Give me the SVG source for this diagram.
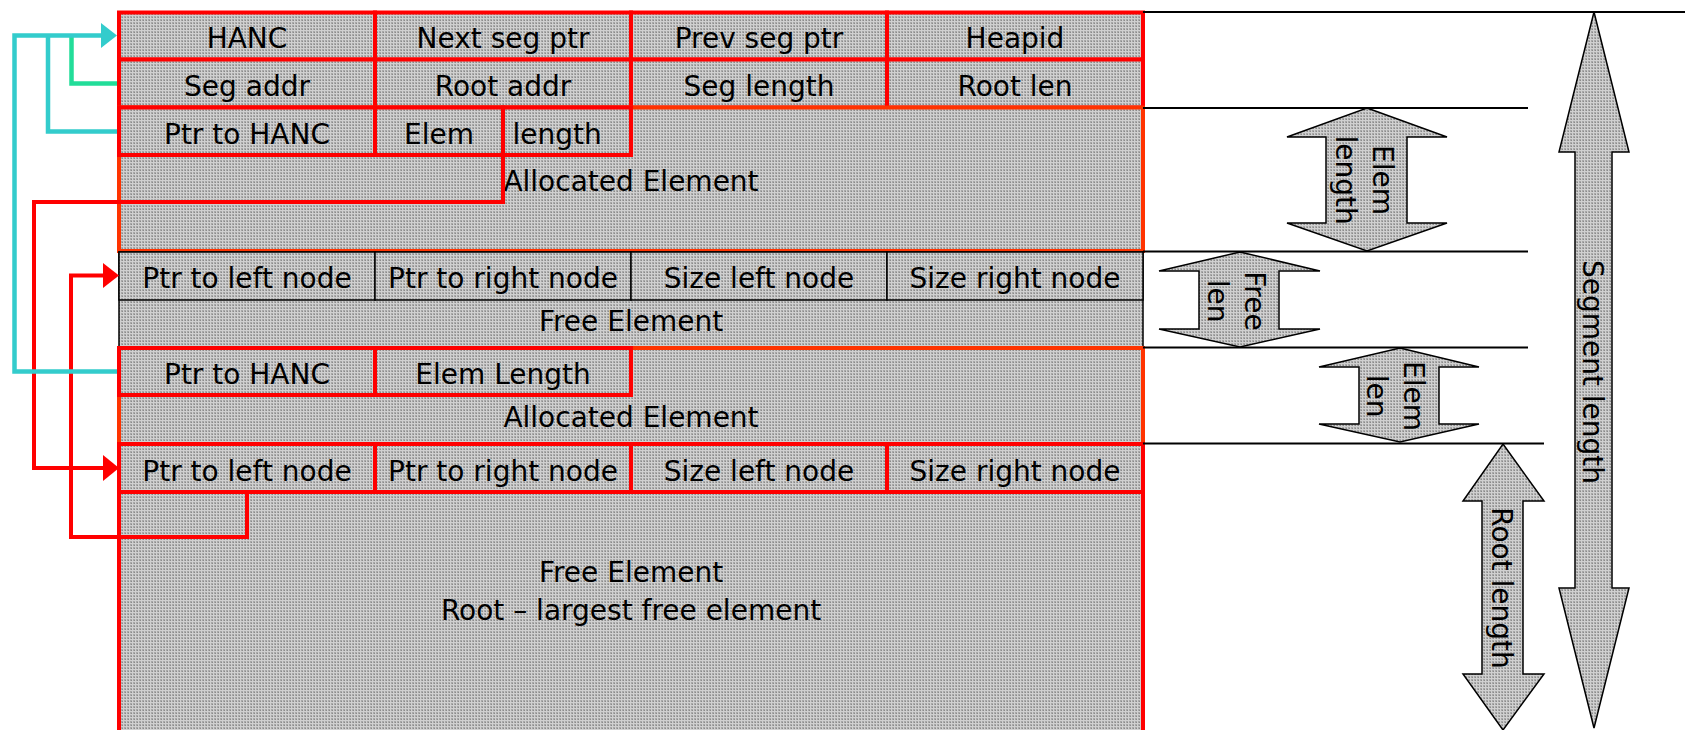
<svg xmlns="http://www.w3.org/2000/svg" width="1697" height="730" viewBox="0 0 1697 730">
  <defs>
    <!-- halftone grey fill used by every block and arrow -->
    <pattern id="dots" width="3" height="3" patternUnits="userSpaceOnUse">
      <rect width="3" height="3" fill="#A8A8A8"/>
      <rect width="3" height="1" fill="#D0D0D0"/>
      <rect width="1" height="3" fill="#D0D0D0"/>
      <rect x="2" y="2" width="1" height="1" fill="#8A8A8A"/>
    </pattern>
    <style>
      .t { font-family: "DejaVu Sans", "Liberation Sans", sans-serif; font-size: 28px; fill: #000; text-anchor: middle; }
      .cell { fill: url(#dots); stroke: #FF0000; stroke-width: 4; }
      .cellk { fill: url(#dots); stroke: #000; stroke-width: 1.5; }
      .alloc { fill: url(#dots); stroke: #FF3300; stroke-width: 4; }
      .freek { fill: url(#dots); stroke: #000; stroke-width: 1.5; }
      .freer { fill: url(#dots); stroke: #FF0000; stroke-width: 4; }
      .dim { stroke: #000; stroke-width: 2; fill: none; }
      .arr { fill: url(#dots); stroke: #000; stroke-width: 1.5; stroke-linejoin: miter; }
      .red { fill: none; stroke: #FF0000; stroke-width: 4; }
      .teal { fill: none; stroke: #33CCCC; stroke-width: 4.5; }
      .green { fill: none; stroke: #22DD99; stroke-width: 4.5; }
    </style>
  </defs>

  <rect width="1697" height="730" fill="#FFFFFF"/>

  <!-- segment header -->
  <g id="segment-header">
    <rect class="cell" x="119" y="12.5" width="256" height="47"/>
    <rect class="cell" x="375" y="12.5" width="256" height="47"/>
    <rect class="cell" x="631" y="12.5" width="256" height="47"/>
    <rect class="cell" x="887" y="12.5" width="256" height="47"/>
    <rect class="cell" x="119" y="59.5" width="256" height="48"/>
    <rect class="cell" x="375" y="59.5" width="256" height="48"/>
    <rect class="cell" x="631" y="59.5" width="256" height="48"/>
    <rect class="cell" x="887" y="59.5" width="256" height="48"/>
    <text class="t" x="247" y="48">HANC</text>
    <text class="t" x="503" y="48">Next seg ptr</text>
    <text class="t" x="759" y="48">Prev seg ptr</text>
    <text class="t" x="1015" y="48">Heapid</text>
    <text class="t" x="247" y="96">Seg addr</text>
    <text class="t" x="503" y="96">Root addr</text>
    <text class="t" x="759" y="96">Seg length</text>
    <text class="t" x="1015" y="96">Root len</text>
  </g>

  <!-- first allocated element -->
  <g id="allocated-1">
    <rect class="alloc" x="119" y="107.5" width="1024" height="143.5"/>
    <rect class="cell" x="119" y="107.5" width="256" height="47.5"/>
    <rect class="cell" x="375" y="107.5" width="128" height="47.5"/>
    <rect class="cell" x="503" y="107.5" width="128" height="47.5"/>
    <text class="t" x="247" y="144">Ptr to HANC</text>
    <text class="t" x="439" y="144">Elem</text>
    <text class="t" x="557" y="144">length</text>
    <text class="t" x="631" y="191">Allocated Element</text>
  </g>

  <!-- free element -->
  <g id="free-1">
    <rect class="freek" x="119" y="252" width="1024" height="95"/>
    <rect class="cellk" x="119" y="252" width="256" height="48"/>
    <rect class="cellk" x="375" y="252" width="256" height="48"/>
    <rect class="cellk" x="631" y="252" width="256" height="48"/>
    <rect class="cellk" x="887" y="252" width="256" height="48"/>
    <text class="t" x="247" y="288">Ptr to left node</text>
    <text class="t" x="503" y="288">Ptr to right node</text>
    <text class="t" x="759" y="288">Size left node</text>
    <text class="t" x="1015" y="288">Size right node</text>
    <text class="t" x="631" y="331">Free Element</text>
  </g>

  <!-- second allocated element -->
  <g id="allocated-2">
    <rect class="alloc" x="119" y="348" width="1024" height="96"/>
    <rect class="cell" x="119" y="348" width="256" height="47"/>
    <rect class="cell" x="375" y="348" width="256" height="47"/>
    <text class="t" x="247" y="383.5">Ptr to HANC</text>
    <text class="t" x="503" y="383.5">Elem Length</text>
    <text class="t" x="631" y="427">Allocated Element</text>
  </g>

  <!-- root free element -->
  <g id="free-root">
    <rect class="freer" x="119" y="444" width="1024" height="300"/>
    <rect class="cell" x="119" y="444" width="256" height="48"/>
    <rect class="cell" x="375" y="444" width="256" height="48"/>
    <rect class="cell" x="631" y="444" width="256" height="48"/>
    <rect class="cell" x="887" y="444" width="256" height="48"/>
    <text class="t" x="247" y="480.5">Ptr to left node</text>
    <text class="t" x="503" y="480.5">Ptr to right node</text>
    <text class="t" x="759" y="480.5">Size left node</text>
    <text class="t" x="1015" y="480.5">Size right node</text>
    <text class="t" x="631" y="582">Free Element</text>
    <text class="t" x="631" y="620">Root – largest free element</text>
  </g>

  <!-- extent lines -->
  <g id="extent-lines">
    <path class="dim" d="M1143,12 H1685"/>
    <path class="dim" d="M1143,108 H1528"/>
    <path class="dim" d="M1143,251.5 H1528"/>
    <path class="dim" d="M1143,347.5 H1528"/>
    <path class="dim" d="M1143,443.5 H1544"/>
  </g>

  <!-- length arrows -->
  <g id="elem-length-arrow">
    <polygon class="arr" points="1367,108 1447,137 1407,137 1407,223 1447,223 1367,251 1287,223 1326,223 1326,137 1287,137"/>
    <g transform="translate(1366,180) rotate(90)">
      <text class="t" x="0" y="-7">Elem</text>
      <text class="t" x="0" y="30">length</text>
    </g>
  </g>
  <g id="free-len-arrow">
    <polygon class="arr" points="1240,252 1320,271 1279,271 1279,329 1320,329 1240,347 1159,329 1199,329 1199,271 1159,271"/>
    <g transform="translate(1239,301) rotate(90)">
      <text class="t" x="0" y="-6">Free</text>
      <text class="t" x="0" y="31">len</text>
    </g>
  </g>
  <g id="elem-len-arrow">
    <polygon class="arr" points="1400,348 1479,367 1439,367 1439,424 1479,424 1400,442 1319,424 1359,424 1359,367 1319,367"/>
    <g transform="translate(1399,396) rotate(90)">
      <text class="t" x="0" y="-5">Elem</text>
      <text class="t" x="0" y="32">len</text>
    </g>
  </g>
  <g id="root-length-arrow">
    <polygon class="arr" points="1503,444 1544,501 1523,501 1523,674 1544,674 1503,730 1463,674 1482,674 1482,501 1463,501"/>
    <g transform="translate(1503,588) rotate(90)">
      <text class="t" x="0" y="11">Root length</text>
    </g>
  </g>
  <g id="segment-length-arrow">
    <polygon class="arr" points="1594,12 1629,152 1612,152 1612,588 1629,588 1594,728 1559,588 1575,588 1575,152 1559,152"/>
    <g transform="translate(1594,372) rotate(90)">
      <text class="t" x="0" y="11">Segment length</text>
    </g>
  </g>

  <!-- pointer connectors -->
  <g id="connectors">
    <path class="red" d="M503,155 V202 H34 V468 H104"/>
    <polygon fill="#FF0000" points="103,455 119,468 103,481"/>
    <path class="red" d="M247,492 V537 H71 V275.5 H104"/>
    <polygon fill="#FF0000" points="103,263 119,275.5 103,288"/>
    <path class="green" d="M117,83.5 H71.5 V35.5"/>
    <path class="teal" d="M117,131.5 H48 V35.5"/>
    <path class="teal" d="M117,371.5 H14.5 V35.5 H102"/>
    <polygon fill="#33CCCC" points="101,23 117,35.5 101,48"/>
  </g>
</svg>
